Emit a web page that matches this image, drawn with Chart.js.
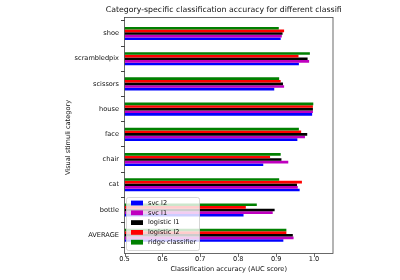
<!DOCTYPE html>
<html>
<head>
<meta charset="utf-8">
<script src="https://cdn.jsdelivr.net/npm/chart.js@4"></script>
<style>
  html, body { margin: 0; padding: 0; background: #fff; }
  #wrap { width: 400px; height: 280px; }
</style>
</head>
<body>
<div id="wrap"><canvas id="myChart" width="400" height="280"></canvas></div>
<script>
// top to bottom, as in the figure
const categories = ['shoe', 'scrambledpix', 'scissors', 'house', 'face', 'chair', 'cat', 'bottle', 'AVERAGE'];
const svcL2 = [0.912, 0.960, 0.895, 0.995, 0.956, 0.866, 0.962, 0.814, 0.919];
const svcL1 = [0.915, 0.987, 0.921, 0.997, 0.976, 0.932, 0.957, 0.891, 0.946];
const logisticL1 = [0.917, 0.983, 0.918, 0.997, 0.982, 0.914, 0.955, 0.896, 0.944];
const logisticL2 = [0.921, 0.959, 0.912, 0.997, 0.966, 0.884, 0.968, 0.820, 0.927];
const ridge = [0.907, 0.989, 0.908, 0.998, 0.960, 0.912, 0.908, 0.849, 0.927];
const xTicks = [0.5, 0.6, 0.7, 0.8, 0.9, 1.0];

const font = 'DejaVu Sans';
const tickSize = 6.6;

// axes frame in matplotlib sits a bit outside the category bands
const frame = { top: 17.5, bottom: 253.5 };

const decor = {
  id: 'decor',
  afterDatasetsDraw(chart) {
    const ctx = chart.ctx;
    const area = chart.chartArea;
    const x = chart.scales.x;
    ctx.save();

    // legend box, entries listed bottom bar first
    const lx = 126.5, ly = 197.5, lw = 73, lh = 53;
    ctx.fillStyle = 'rgba(255,255,255,0.8)';
    ctx.strokeStyle = 'rgba(204,204,204,0.8)';
    ctx.lineWidth = 1;
    ctx.beginPath();
    ctx.roundRect(lx, ly, lw, lh, 2);
    ctx.fill();
    ctx.stroke();
    ctx.font = tickSize + 'px ' + font;
    ctx.textBaseline = 'middle';
    ctx.textAlign = 'left';
    chart.data.datasets.slice().reverse().forEach((ds, i) => {
      const cy = 203 + i * 9.8;
      ctx.fillStyle = ds.backgroundColor;
      ctx.fillRect(131, cy - 2.4, 12, 4.8);
      ctx.fillStyle = '#111';
      ctx.fillText(ds.label, 148, cy);
    });

    // frame
    ctx.strokeStyle = '#444';
    ctx.lineWidth = 0.8;
    ctx.strokeRect(area.left, frame.top, area.right - area.left, frame.bottom - frame.top);

    // x tick marks
    xTicks.forEach(v => {
      const px = Math.round(x.getPixelForValue(v)) + 0.5;
      ctx.beginPath();
      ctx.moveTo(px, frame.bottom);
      ctx.lineTo(px, frame.bottom + 3.5);
      ctx.stroke();
    });

    // titles
    const cx = (area.left + area.right) / 2;
    ctx.fillStyle = '#111';
    ctx.textAlign = 'center';
    ctx.font = '7.8px ' + font;
    ctx.fillText('Category-specific classification accuracy for different classifi', cx - 5, 10);
    ctx.font = tickSize + 'px ' + font;
    ctx.fillText('Classification accuracy (AUC score)', cx, 269.5);
    ctx.translate(68, (frame.top + frame.bottom) / 2 + 2);
    ctx.rotate(-Math.PI / 2);
    ctx.fillText('Visual stimuli category', 0, 0);
    ctx.restore();
  }
};

const ctx = document.getElementById('myChart').getContext('2d');
new Chart(ctx, {
  type: 'bar',
  data: {
    labels: categories,
    // drawn top to bottom inside each group
    datasets: [
      { label: 'ridge classifier', data: ridge, backgroundColor: '#008000' },
      { label: 'logistic l2', data: logisticL2, backgroundColor: '#ff0000' },
      { label: 'logistic l1', data: logisticL1, backgroundColor: '#000000' },
      { label: 'svc l1', data: svcL1, backgroundColor: '#bf00bf' },
      { label: 'svc l2', data: svcL2, backgroundColor: '#0000ff' }
    ]
  },
  options: {
    indexAxis: 'y',
    responsive: false,
    animation: false,
    events: [],
    layout: { padding: { left: 0, right: 67, top: 20.9, bottom: 0 } },
    datasets: { bar: { categoryPercentage: 0.52, barPercentage: 1.0 } },
    plugins: { legend: { display: false }, tooltip: { enabled: false }, title: { display: false } },
    scales: {
      x: {
        min: 0.5,
        max: 1.05,
        afterBuildTicks: (scale) => { scale.ticks = xTicks.map(v => ({ value: v })); },
        afterFit: (scale) => { scale.height = 280 - 247.8; },
        border: { display: false },
        grid: { display: true, drawOnChartArea: false, drawTicks: false },
        ticks: {
          padding: 8,
          color: '#111',
          font: { family: font, size: tickSize },
          callback: (v) => v.toFixed(1)
        }
      },
      y: {
        afterFit: (scale) => { scale.width = 124.5; },
        border: { display: false },
        grid: { display: true, drawOnChartArea: false, drawTicks: true, tickLength: 3.5, color: '#444' },
        ticks: {
          padding: 2,
          color: '#111',
          font: { family: font, size: tickSize }
        }
      }
    }
  },
  plugins: [decor]
});
</script>
</body>
</html>
